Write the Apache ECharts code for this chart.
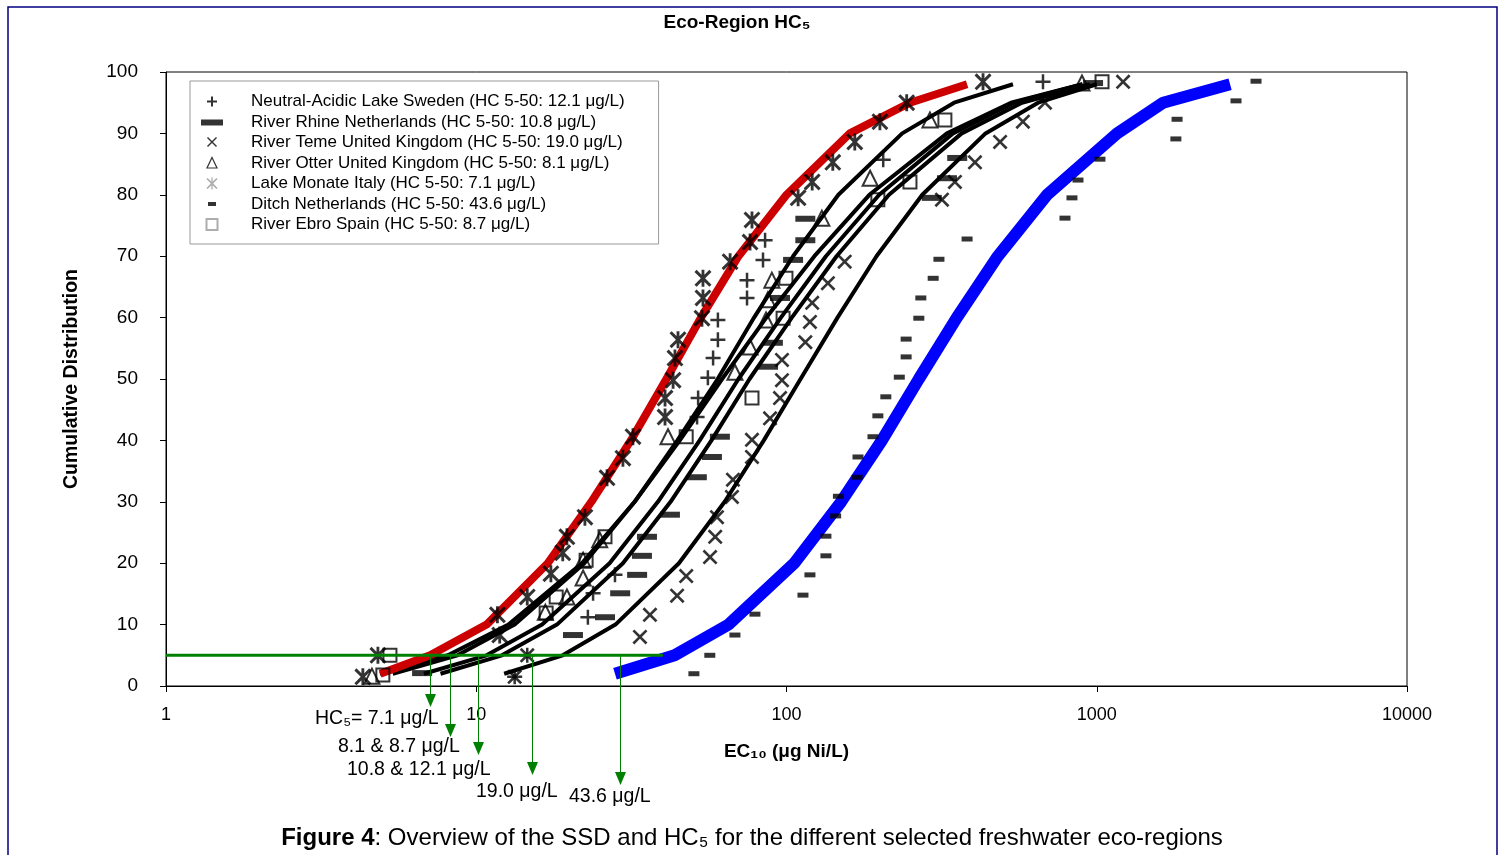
<!DOCTYPE html>
<html>
<head>
<meta charset="utf-8">
<title>Eco-Region HC5</title>
<script src="https://cdn.jsdelivr.net/npm/echarts@6/dist/echarts.min.js"></script>
<style>
html, body { margin: 0; padding: 0; background: #fff; }
#chart { width: 1506px; height: 855px; }
</style>
</head>
<body>
<div id="chart"></div>
<script>
// fitted SSD curves: x values at these cumulative percentages
var fitPct = [2, 5, 10, 20, 30, 40, 50, 60, 70, 80, 90, 95, 98];
var fitMonate = [4.9, 7.1, 10.8, 17, 23.5, 31.5, 41, 53, 70, 100, 160, 250, 382];
var fitDitch = [28, 43.6, 65, 106, 150, 203, 267, 354, 480, 692, 1162, 1636, 2690];
var fitOtter = [4.89, 8.1, 12.7, 21.9, 32.4, 45.3, 62, 86.1, 123, 185, 329, 529, 900];
var fitEbro = [5.38, 8.7, 13.3, 22.3, 32.4, 44.5, 60, 78.6, 105, 147, 236, 347, 537];
var fitRhine = [6.78, 10.8, 16.3, 26.9, 38.5, 52.5, 70, 95.9, 134, 199, 344, 541, 900];
var fitSweden = [7.67, 12.1, 18.2, 29.7, 42.3, 57.3, 76, 104, 145, 214, 367, 574, 950];
var fitTeme = [12.3, 19, 28.1, 45, 63.2, 84.5, 111, 146, 195, 274, 438, 647, 1000];

// observed EC10 values and their cumulative percentages
var swedenX = [13.3, 14.6, 22.9, 23.8, 28.0, 51.5, 51.9, 55.8, 58.0, 60.1, 60.1, 74.6, 74.6, 84.0, 85.3, 205, 671];
var swedenY = [1.5, 5.0, 11.2, 15.1, 18.1, 43.8, 46.9, 50.2, 53.4, 56.4, 59.6, 63.2, 66.1, 69.4, 72.6, 85.7, 98.4];

var rhineX = [6.69, 20.5, 26, 29.1, 33.0, 34.2, 35.5, 42.1, 51.4, 57.5, 61.0, 87.2, 90.4, 95.3, 105, 115, 115, 294, 329, 355, 973];
var rhineY = [2.1, 8.3, 11.2, 15.1, 18.1, 21.2, 24.3, 27.9, 34.0, 37.3, 40.6, 52.0, 55.9, 63.2, 69.4, 72.6, 76.1, 79.5, 82.7, 86.0, 98.2];

var temeX = [13.3, 14.6, 33.7, 36.3, 44.4, 47.5, 56.7, 58.9, 59.7, 66.7, 67.2, 77.4, 77.4, 88.5, 95.3, 96.7, 96.7, 115, 119, 121, 136, 154, 317, 349, 405, 488, 578, 681, 1216];
var temeY = [1.5, 5.0, 8.0, 11.6, 14.7, 17.9, 21.0, 24.3, 27.5, 30.8, 33.6, 37.3, 40.1, 43.6, 46.9, 49.8, 53.1, 56.0, 59.3, 62.4, 65.6, 69.1, 79.2, 82.1, 85.3, 88.6, 91.9, 95.0, 98.4];

var otterX = [4.61, 16.7, 19.6, 22.1, 22.1, 25.0, 41.5, 68.2, 76.3, 85.9, 87.1, 89.7, 130, 186, 290, 896];
var otterY = [1.6, 12.0, 14.5, 17.6, 20.5, 23.8, 40.6, 51.1, 55.2, 59.6, 62.9, 66.1, 76.2, 82.7, 92.2, 98.2];

var monateX = [4.31, 4.82, 11.9, 11.7, 14.6, 17.4, 19, 19.6, 22.4, 26.4, 29.7, 32.0, 40.6, 40.6, 43.1, 43.7, 44.7, 53.4, 53.8, 53.8, 65.8, 76.3, 77.4, 109, 121, 141, 166, 200, 244, 430];
var monateY = [1.5, 5.0, 8.3, 11.6, 14.5, 18.3, 21.7, 24.3, 27.5, 33.9, 37.1, 40.6, 43.8, 46.9, 49.8, 53.4, 56.4, 59.9, 63.2, 66.4, 69.1, 72.3, 75.9, 79.5, 82.1, 85.3, 88.6, 91.9, 95.0, 98.4];

var ditchX = [50.3, 56.6, 68.2, 79.1, 113, 119, 134, 134, 144, 147, 169, 170, 190, 197, 209, 231, 243, 243, 267, 271, 297, 310, 382, 790, 832, 870, 1024, 1799, 1815, 2811, 3261];
var ditchY = [2.0, 5.0, 8.3, 11.7, 14.8, 18.1, 21.2, 24.4, 27.7, 30.9, 34.0, 37.3, 40.6, 44.0, 47.1, 50.3, 53.6, 56.5, 59.9, 63.2, 66.4, 69.5, 72.8, 76.2, 79.5, 82.4, 85.8, 89.1, 92.3, 95.3, 98.5];

var ebroX = [5.0, 5.27, 16.8, 18.1, 22.6, 26.0, 47.5, 77.4, 97.5, 99.6, 197, 250, 324, 1040];
var ebroY = [1.8, 5.0, 11.9, 14.5, 20.5, 24.3, 40.6, 46.9, 59.9, 66.4, 79.2, 82.1, 92.2, 98.4];

// HC5 level and where the arrows drop from it
var hc5X = [1, 40];
var hc5Y = [5, 5];
var arrowX = [7.1, 8.2, 10.1, 15.1, 29];
var arrowLabels = ['HC\u2085= 7.1 \u03bcg/L', '8.1 & 8.7 \u03bcg/L', '10.8 & 12.1 \u03bcg/L', '19.0 \u03bcg/L', '43.6 \u03bcg/L'];

var names = [
    'Neutral-Acidic Lake Sweden (HC 5-50: 12.1 \u03bcg/L)',
    'River Rhine Netherlands (HC 5-50: 10.8 \u03bcg/L)',
    'River Teme United Kingdom (HC 5-50: 19.0 \u03bcg/L)',
    'River Otter United Kingdom (HC 5-50: 8.1 \u03bcg/L)',
    'Lake Monate Italy (HC 5-50: 7.1 \u03bcg/L)',
    'Ditch Netherlands (HC 5-50: 43.6 \u03bcg/L)',
    'River Ebro Spain (HC 5-50: 8.7 \u03bcg/L)'
];

var FONT = 'Liberation Sans, Arial, sans-serif';
var plusPath = 'path://M5,0H7V5H12V7H7V12H5V7H0V5H5Z';
var crossPath = 'path://M0,1.5L1.5,0L6,4.5L10.5,0L12,1.5L7.5,6L12,10.5L10.5,12L6,7.5L1.5,12L0,10.5L4.5,6Z';
var starPath = crossPath + 'M5,0H7V12H5Z';

function pairs(xs, ys) {
    return xs.map(function (x, i) { return [x, ys[i]]; });
}

function fitLine(xs, color, width) {
    return {
        type: 'line', data: pairs(xs, fitPct), showSymbol: false, symbol: 'none',
        lineStyle: { color: color, width: width }, z: 2, silent: true
    };
}

function scatter(name, xs, ys, symbol, size, style) {
    return {
        name: name, type: 'scatter', data: pairs(xs, ys), symbol: symbol,
        symbolSize: size, itemStyle: style, z: 3
    };
}

var hollow = { color: 'rgba(0,0,0,0)', borderColor: '#000', borderWidth: 2 };

var chart = echarts.init(document.getElementById('chart'));

var option = {
    animation: false,
    backgroundColor: '#fff',
    textStyle: { fontFamily: FONT, color: '#000' },
    grid: { left: 166, right: 99, top: 72, bottom: 169, show: true, borderColor: '#000', borderWidth: 1 },
    legend: {
        left: 190, top: 81, orient: 'vertical', selectedMode: false,
        padding: [12, 34, 11, 6], itemWidth: 30, itemHeight: 12, itemGap: 3.5,
        borderColor: '#999', borderWidth: 1, backgroundColor: '#fff',
        textStyle: { fontFamily: FONT, fontSize: 17, lineHeight: 17, color: '#000', padding: [0, 0, 0, 19] },
        data: [
            { name: names[0], icon: 'path://M0,0M30,12M14,1H16V5H20V7H16V11H14V7H10V5H14Z' },
            { name: names[1], icon: 'path://M0,0M30,12M4,3.5H26V9.5H4Z' },
            { name: names[2], icon: 'path://M0,0M30,12M10,1.5L11,0.5L15,4.5L19,0.5L20,1.5L16,5.5L20,9.5L19,10.5L15,6.5L11,10.5L10,9.5L14,5.5Z' },
            { name: names[3], icon: 'path://M0,0M30,12M15,0.5L20,11H10Z', itemStyle: { borderWidth: 1.2 } },
            { name: names[4], icon: 'path://M0,0M30,12M8,0.5L9.5,-1L15,4.5L20.5,-1L22,0.5L16.5,6L22,11.5L20.5,13L15,7.5L9.5,13L8,11.5L13.5,6ZM14.2,-1.5H15.8V13.5H14.2Z', itemStyle: { color: '#999' } },
            { name: names[5], icon: 'path://M0,0M30,12M11,4H19V8H11Z' },
            { name: names[6], icon: 'path://M0,0M30,12M9.5,0.5H20.5V11.5H9.5Z', itemStyle: { borderColor: '#999' } }
        ]
    },
    xAxis: {
        type: 'log', logBase: 10, min: 1, max: 10000,
        name: 'EC\u2081\u2080 (\u03bcg Ni/L)', nameLocation: 'middle', nameGap: 56,
        nameTextStyle: { fontFamily: FONT, fontSize: 19, fontWeight: 'bold', color: '#000' },
        axisLine: { lineStyle: { color: '#000', width: 1 } },
        axisTick: { show: true, length: 6, lineStyle: { color: '#000' } },
        minorTick: { show: false },
        axisLabel: { fontFamily: FONT, fontSize: 18, color: '#000', margin: 20,
            formatter: function (v) { return String(v); } },
        splitLine: { show: false }
    },
    yAxis: {
        type: 'value', min: 0, max: 100, interval: 10,
        name: 'Cumulative Distribution', nameLocation: 'middle', nameGap: 84, nameRotate: 90,
        nameTextStyle: { fontFamily: FONT, fontSize: 19.5, fontWeight: 'bold', color: '#000' },
        axisLine: { show: true, lineStyle: { color: '#000', width: 1 } },
        axisTick: { show: true, length: 6, lineStyle: { color: '#000' } },
        axisLabel: { fontFamily: FONT, fontSize: 19, color: '#000', margin: 28 },
        splitLine: { show: false }
    },
    series: [
        fitLine(fitOtter, '#000', 4),
        fitLine(fitEbro, '#000', 4),
        fitLine(fitRhine, '#000', 4),
        fitLine(fitSweden, '#000', 4),
        fitLine(fitTeme, '#000', 4),
        fitLine(fitMonate, '#cc0000', 8),
        fitLine(fitDitch, '#0000ff', 12),
        scatter(names[0], swedenX, swedenY, plusPath, 15, { color: '#000' }),
        scatter(names[1], rhineX, rhineY, 'rect', [20, 6], { color: '#000' }),
        scatter(names[2], temeX, temeY, crossPath, 15, { color: '#000' }),
        scatter(names[3], otterX, otterY, 'triangle', 15, hollow),
        scatter(names[4], monateX, monateY, starPath, 17, { color: '#000' }),
        scatter(names[5], ditchX, ditchY, 'rect', [11, 5], { color: '#000' }),
        scatter(names[6], ebroX, ebroY, 'rect', 13, hollow),
        {
            type: 'line', data: pairs(hc5X, hc5Y), showSymbol: false, symbol: 'none',
            lineStyle: { color: '#008000', width: 3 }, z: 5, silent: true
        }
    ]
};

chart.setOption(option);

// annotations: arrows from the HC5 level down below the axis, labels, title, footer
var axisBottom = chart.convertToPixel({ gridIndex: 0 }, [1, 0])[1];
var tipDrop = [21, 51, 69, 89, 99];
var labelPos = [[315, 719], [338, 747], [347, 770], [476, 792], [569, 797]];
var graphics = [
    { type: 'rect', shape: { x: 8, y: 7, width: 1489, height: 870 },
      style: { fill: null, stroke: '#000080', lineWidth: 1.5 }, z: 0, silent: true },
    { type: 'text', x: 737, y: 23,
      style: { text: 'Eco-Region HC\u2085', font: 'bold 19px ' + FONT, fill: '#000', textAlign: 'center', textVerticalAlign: 'middle' } },
    { type: 'text', x: 752, y: 838,
      style: { text: '{b|Figure 4}: Overview of the SSD and HC\u2085 for the different selected freshwater eco-regions',
        font: '24px ' + FONT, fill: '#000', textAlign: 'center', textVerticalAlign: 'middle',
        rich: { b: { fontWeight: 'bold', fontSize: 24, fontFamily: FONT } } } }
];
arrowX.forEach(function (v, i) {
    var p = chart.convertToPixel({ gridIndex: 0 }, [v, hc5Y[0]]);
    var px = Math.round(p[0]) + 0.5;
    var tip = axisBottom + tipDrop[i];
    graphics.push({ type: 'line', shape: { x1: px, y1: p[1], x2: px, y2: tip - 8 },
        style: { stroke: '#008000', lineWidth: 1 }, z: 10, silent: true });
    graphics.push({ type: 'polygon', shape: { points: [[px - 5.5, tip - 13], [px + 5.5, tip - 13], [px, tip]] },
        style: { fill: '#008000' }, z: 10, silent: true });
    graphics.push({ type: 'text', x: labelPos[i][0], y: labelPos[i][1],
        style: { text: arrowLabels[i], font: '19.5px ' + FONT, fill: '#000', textVerticalAlign: 'middle' }, z: 10 });
});

chart.setOption({ graphic: graphics });
</script>
</body>
</html>
